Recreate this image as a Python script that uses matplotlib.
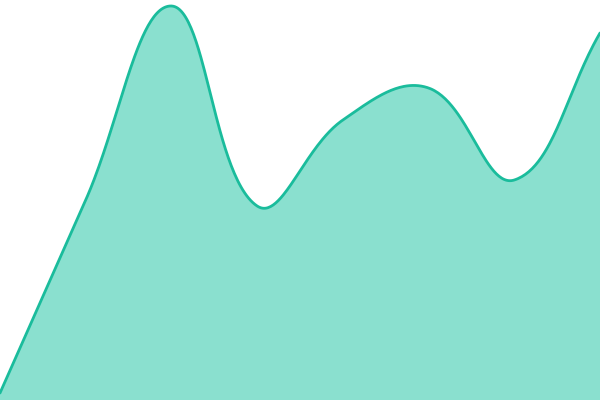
import numpy as np
import matplotlib
matplotlib.use("Agg")
import matplotlib.pyplot as plt

# values (y axis 0..100, one point every 1/7 of the width)
x_vals = [0, 1, 2, 3, 4, 5, 6, 7]
y_vals = [1.75, 50, 98.5, 48.5, 70, 78, 55, 91.75]

line_color = "#1abc9c"
fill_color = "#8ae0cf"
tension = 0.4


def spline(p, t=0.4, n=60):
    '''chart.js style spline through display points'''
    cp_prev, cp_next = [], []
    for i in range(len(p)):
        prev = p[i - 1] if i > 0 else p[i]
        nxt = p[i + 1] if i + 1 < len(p) else p[i]
        d01 = np.linalg.norm(p[i] - prev)
        d12 = np.linalg.norm(nxt - p[i])
        s01 = d01 / (d01 + d12) if d01 + d12 else 0
        s12 = d12 / (d01 + d12) if d01 + d12 else 0
        cp_prev.append(p[i] - t * s01 * (nxt - prev))
        cp_next.append(p[i] + t * s12 * (nxt - prev))
    u = np.linspace(0, 1, n)[:, None]
    out = []
    for i in range(len(p) - 1):
        p1, b1, b2, p2 = p[i], cp_next[i], cp_prev[i + 1], p[i + 1]
        seg = ((1 - u) ** 3 * p1 + 3 * (1 - u) ** 2 * u * b1
               + 3 * (1 - u) * u ** 2 * b2 + u ** 3 * p2)
        out.append(seg if i == 0 else seg[1:])
    return np.vstack(out)


fig = plt.figure(figsize=(6, 4), dpi=100)
ax = fig.add_axes([0, 0, 1, 1])
ax.set_xlim(x_vals[0], x_vals[-1])
ax.set_ylim(0, 100)
ax.axis("off")

pts = ax.transData.transform(np.column_stack([x_vals, y_vals]))
curve = ax.transData.inverted().transform(spline(pts, tension))
sx, sy = curve[:, 0], curve[:, 1]

ax.fill_between(sx, 0, sy, color=fill_color, lw=0)
ax.plot(sx, sy, color=line_color, lw=2, solid_capstyle="round")
fig.savefig("out.png", dpi=100)
